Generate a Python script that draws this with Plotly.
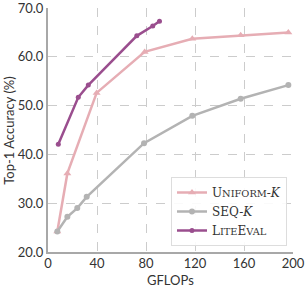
import plotly.graph_objects as go

uniform_x = [7.6, 15.8, 39.7, 78.9, 117.8, 157.3, 196.2]
uniform_y = [24.2, 36.1, 52.6, 61.0, 63.7, 64.4, 65.0]

seq_x = [7.6, 15.8, 23.9, 31.6, 78.4, 117.8, 157.3, 196.2]
seq_y = [24.2, 27.2, 29.0, 31.3, 42.3, 47.9, 51.4, 54.2]

lite_x = [8.4, 24.7, 32.9, 72.5, 85.5, 91.0]
lite_y = [42.1, 51.7, 54.2, 64.3, 66.3, 67.3]

x_ticks = [0, 40, 80, 120, 160, 200]
y_ticks = [20, 30, 40, 50, 60, 70]

PINK = "#e6adb4"
GRAY = "#b3b3b3"
PURPLE = "#9a4e8e"
TXT = "#333333"

def sc(s):
    return "<span style='font-size:9.8px'>" + s + "</span>"

name_uniform = "U" + sc("NIFORM") + "-<i>K</i>"
name_seq = "SEQ-<i>K</i>"
name_lite = "L" + sc("ITE") + "E" + sc("VAL")

fig = go.Figure()
fig.add_trace(go.Scatter(x=uniform_x, y=uniform_y, mode="lines+markers", name=name_uniform,
                         line=dict(color=PINK, width=2.5),
                         marker=dict(symbol="triangle-up", size=7, color=PINK)))
fig.add_trace(go.Scatter(x=seq_x, y=seq_y, mode="lines+markers", name=name_seq,
                         line=dict(color=GRAY, width=2.5),
                         marker=dict(symbol="circle", size=6, color=GRAY)))
fig.add_trace(go.Scatter(x=lite_x, y=lite_y, mode="lines+markers", name=name_lite,
                         line=dict(color=PURPLE, width=2.5),
                         marker=dict(symbol="circle", size=5, color=PURPLE)))

axis_common = dict(
    showgrid=True, gridcolor="#cccccc", griddash="dash", gridwidth=1.2,
    showline=True, linecolor="#a8a8a8", linewidth=2, zeroline=False,
    ticks="", tickfont=dict(family="Lato", size=13, color=TXT),
    ticklabeloverflow="allow",
)

fig.update_xaxes(range=[0, 200], tickvals=x_ticks, ticktext=[str(v) for v in x_ticks],
                 ticklabelstandoff=-2, **axis_common)
fig.update_yaxes(range=[20, 70], tickvals=y_ticks, ticktext=[f"{v:.1f}" for v in y_ticks],
                 **axis_common)

fig.add_annotation(text="GFLOPs", xref="paper", yref="paper", x=0.5, y=-0.115,
                   xanchor="center", yanchor="middle", showarrow=False,
                   font=dict(family="Lato", size=13, color=TXT))
fig.add_annotation(text="Top-1 Accuracy (%)", xref="paper", yref="paper", x=-0.16, y=0.5,
                   xanchor="center", yanchor="middle", textangle=-90, showarrow=False,
                   font=dict(family="Lato", size=13, color=TXT))

fig.update_layout(
    width=308, height=288,
    margin=dict(l=48, r=15, t=8, b=36, autoexpand=False),
    plot_bgcolor="white", paper_bgcolor="white",
    showlegend=True,
    legend=dict(x=0.9755, y=0.0246, xanchor="right", yanchor="bottom",
                bgcolor="rgba(255,255,255,0.9)", bordercolor="#dddddd", borderwidth=1,
                font=dict(family="DejaVu Serif", size=12, color=TXT),
                tracegroupgap=0, itemwidth=30),
)

fig.write_html("out.html", config={"displayModeBar": False},
               post_script="document.body.style.margin='0';")
